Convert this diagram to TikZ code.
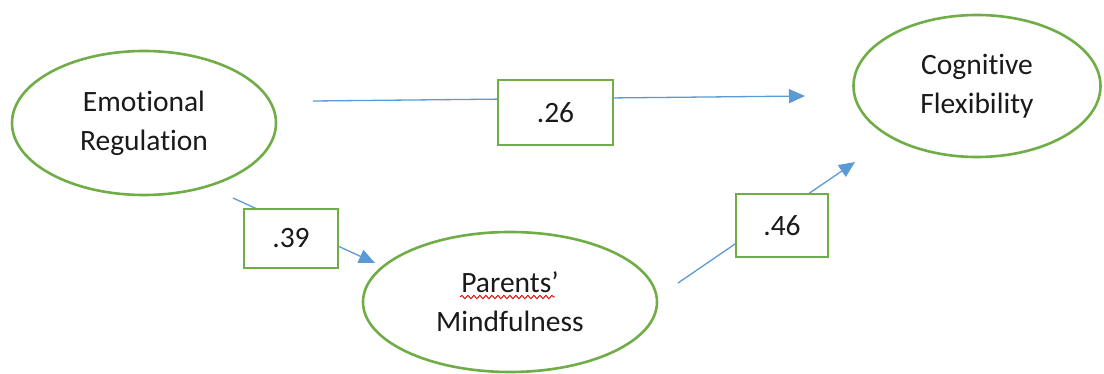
\documentclass[tikz,border=0pt]{standalone}
\usepackage{fontspec}
\setmainfont{Carlito}[Ligatures=NoCommon]
\usetikzlibrary{arrows.meta,shapes.geometric,decorations.pathmorphing,calc}
\definecolor{boxgreen}{HTML}{70AD47}
\definecolor{lineblue}{HTML}{5B9BD5}
\definecolor{txt}{HTML}{1A1A1A}
\tikzset{
  construct/.style={ellipse,draw=boxgreen,line width=2.6pt,inner sep=0pt,fill=white,
    align=center,text=txt,font=\fontsize{29.5}{39}\selectfont},
  coefbox/.style={rectangle,draw=boxgreen,line width=2.6pt,inner sep=0pt,fill=white,
    text=txt,font=\fontsize{29.5}{36}\selectfont},
  pathline/.style={draw=lineblue,line width=1.3pt,-{Triangle[length=16pt,width=14pt]}},
  squiggle/.style={draw=red!85!black,line width=0.9pt,decorate,
    decoration={snake,amplitude=1.6pt,segment length=6pt}}
}
\begin{document}
\begin{tikzpicture}[x=1pt,y=-1pt]
\useasboundingbox[fill=white] (0,0) rectangle (1104,374);
% constructs
\node[construct,minimum width=264pt,minimum height=144pt] (ER) at (144,123) {Emotional\\Regulation};
\node[construct,minimum width=247pt,minimum height=142pt] (CF) at (977,86) {Cognitive\\Flexibility};
\node[construct,minimum width=294pt,minimum height=140pt] (PM) at (510,302) {Parents’\\Mindfulness};
% spell-check underline
\draw[squiggle] ($(PM.center)+(-50,-5)$) -- ($(PM.center)+(45,-5)$);
% connector end points
\coordinate (erOut1) at (313,101);
\coordinate (cfIn1) at (805,96);
\coordinate (erOut2) at (233,198);
\coordinate (pmIn) at (375,263);
\coordinate (pmOut) at (678,283);
\coordinate (cfIn2) at (855,162);
% paths
\draw[pathline] (erOut1) -- (cfIn1);
\draw[pathline] (erOut2) -- (pmIn);
\draw[pathline] (pmOut) -- (cfIn2);
% coefficients
\node[coefbox,minimum width=115pt,minimum height=65pt] (b26) at (555.5,112.5) {.26};
\node[coefbox,minimum width=94pt,minimum height=59pt] (b39) at (291,238.5) {.39};
\node[coefbox,minimum width=92pt,minimum height=63pt] (b46) at (782,225.5) {.46};
\end{tikzpicture}
\end{document}
